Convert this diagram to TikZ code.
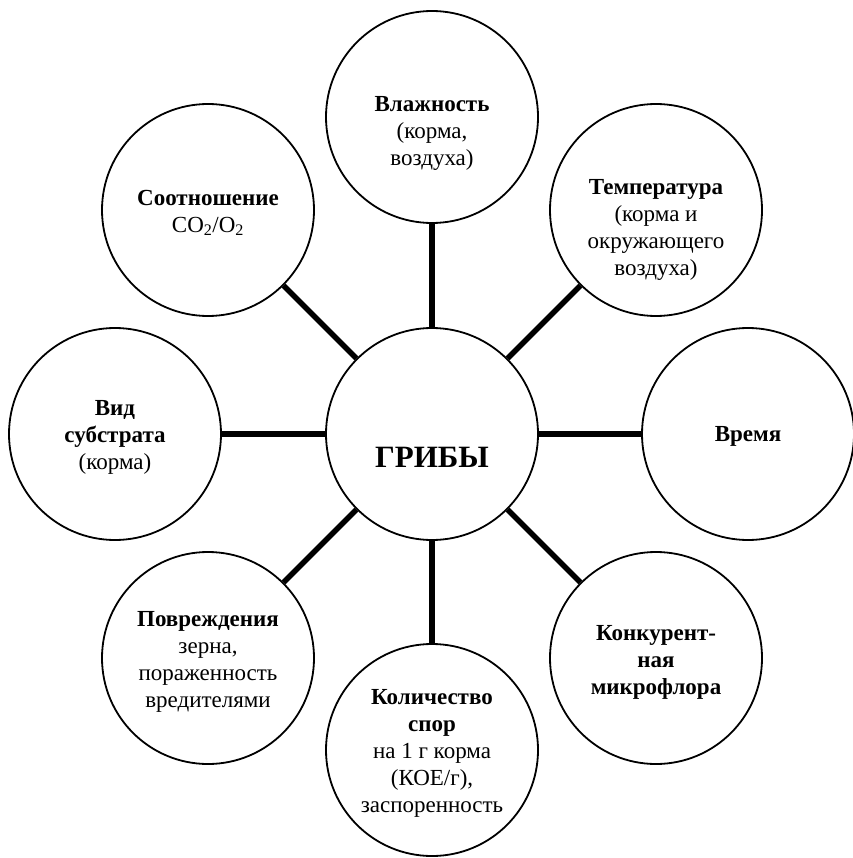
\documentclass[tikz,border=0pt]{standalone}
\usepackage{fontspec}
\setmainfont{Liberation Serif}
\begin{document}
\begin{tikzpicture}[x=1pt,y=-1pt,
  bubble/.style={circle,draw,line width=1.8pt,minimum size=212pt,inner sep=0pt},
  conn/.style={line width=5.5pt},
  txt/.style={align=center,font=\fontsize{23}{27}\selectfont,inner sep=0pt},
  bigtxt/.style={font=\fontsize{31}{36}\selectfont\bfseries,inner sep=0pt}]
\useasboundingbox (0,0) rectangle (852,858);
% circles
\node[bubble] (g)  at (432,434) {};
\node[bubble] (n)  at (432,117) {};
\node[bubble] (ne) at (656,210) {};
\node[bubble] (e)  at (748,434) {};
\node[bubble] (se) at (656,658) {};
\node[bubble] (s)  at (432,750) {};
\node[bubble] (sw) at (208,658) {};
\node[bubble] (w)  at (115,434) {};
\node[bubble] (nw) at (208,210) {};
% connectors
\foreach \t in {n,ne,e,se,s,sw,w,nw} \draw[conn] (g) -- (\t);
% texts
\node[bigtxt] (tg) at (432,457) {ГРИБЫ};
\node[txt] (tn) at (432,133) {\textbf{Влажность}\\(корма,\\воздуха)};
\node[txt] (tne) at (656,230) {\textbf{Температура}\\(корма и\\окружающего\\воздуха)};
\node[txt] (te) at (748,436) {\textbf{Время}};
\node[txt,font=\fontsize{23}{27}\selectfont\bfseries] (tse) at (656,662) {Конкурент-\\ная\\микрофлора};
\node[txt] (ts) at (432,753) {\textbf{Количество}\\\textbf{спор}\\на 1 г корма\\(КОЕ/г),\\заспоренность};
\node[txt] (tsw) at (208,662) {\textbf{Повреждения}\\зерна,\\пораженность\\вредителями};
\node[txt] (tw) at (115,437) {\textbf{Вид}\\\textbf{субстрата}\\(корма)};
\node[txt] (tnw) at (208,213) {\textbf{Соотношение}\\CO\textsubscript{2}/O\textsubscript{2}};
\end{tikzpicture}
\end{document}
